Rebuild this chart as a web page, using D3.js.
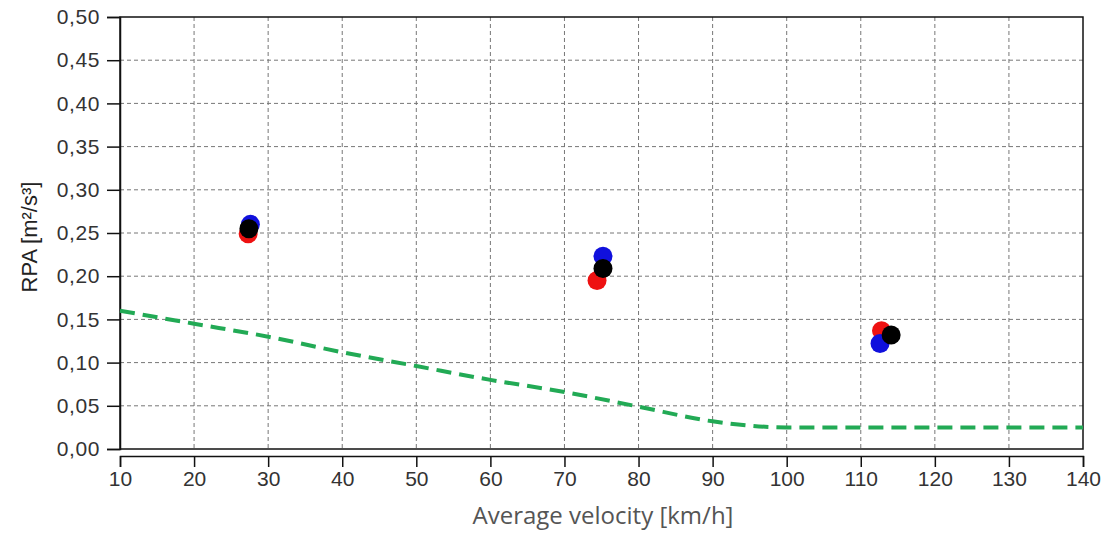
<!DOCTYPE html>
<html><head><meta charset="utf-8">
<script src="https://cdn.jsdelivr.net/npm/d3@7"></script>
<style>body{margin:0;background:#fff;}svg{display:block;}</style>
</head><body>
<svg id="c" width="1120" height="534"></svg>
<script>
const xTicks = [10,20,30,40,50,60,70,80,90,100,110,120,130,140];
const yTicks = [0,0.05,0.10,0.15,0.20,0.25,0.30,0.35,0.40,0.45,0.50];
const redPts = [[27.3,0.249],[74.4,0.195],[112.8,0.137]];
const bluePts = [[27.6,0.260],[75.2,0.223],[112.6,0.122]];
const blackPts = [[27.4,0.255],[75.2,0.209],[114.1,0.132]];
const limitV = [10,20,30,40,50,60,70,80,90,95,100,110,120,130,140];
const limitRPA = [0.160,0.145,0.130,0.112,0.096,0.080,0.066,0.049,0.032,0.027,0.025,0.025,0.025,0.025,0.025];

const svg = d3.select('#c');
const L=120,R=1083,T=17,B=449;
const x = d3.scaleLinear().domain([10,140]).range([L,R]);
const y = d3.scaleLinear().domain([0,0.5]).range([B,T]);
const fmt = d => d.toFixed(2).replace('.',',');
const tickFont = "'Liberation Sans', Arial, sans-serif";

// grid
const g = svg.append('g');
g.selectAll('.gx').data(xTicks.slice(1,-1)).enter().append('line')
 .attr('x1',d=>x(d)).attr('x2',d=>x(d)).attr('y1',T).attr('y2',B)
 .attr('stroke','#777').attr('stroke-width',1).attr('stroke-dasharray','4,3');
g.selectAll('.gy').data(yTicks.slice(1,-1)).enter().append('line')
 .attr('x1',L).attr('x2',R).attr('y1',d=>y(d)).attr('y2',d=>y(d))
 .attr('stroke','#777').attr('stroke-width',1).attr('stroke-dasharray','4,3');

// box
svg.append('rect').attr('x',L).attr('y',T).attr('width',R-L).attr('height',B-T)
 .attr('fill','none').attr('stroke','#111').attr('stroke-width',1.5);

// y axis
const ya = svg.append('g').attr('transform',`translate(${L},0)`)
 .call(d3.axisLeft(y).tickValues(yTicks).tickFormat(fmt).tickSize(13).tickPadding(7));
ya.select('.domain').attr('stroke','#111').attr('stroke-width',1.5);
ya.selectAll('.tick line').attr('stroke','#111').attr('stroke-width',1.5);
ya.selectAll('text').style('font-family',tickFont).style('font-size','21px')
  .style('letter-spacing','0.6px').attr('fill','#333');

// x axis (offset)
const xa = svg.append('g').attr('transform',`translate(0,${B+7})`)
 .call(d3.axisBottom(x).tickValues(xTicks).tickSizeOuter(0).tickSize(11).tickPadding(4));
xa.select('.domain').attr('stroke','#111').attr('stroke-width',1.5);
xa.selectAll('.tick line').attr('stroke','#111').attr('stroke-width',1.5);
xa.selectAll('text').style('font-family',tickFont).style('font-size','21px').attr('fill','#333');

// limit line
const line = d3.line().x((d,i)=>x(d)).y((d,i)=>y(limitRPA[i])).curve(d3.curveMonotoneX);
svg.append('path').attr('d',line(limitV)).attr('fill','none')
 .attr('stroke','#22aa55').attr('stroke-width',4).attr('stroke-dasharray','15,8');

// points
function pts(data,col){
  svg.append('g').selectAll('circle').data(data).enter().append('circle')
   .attr('cx',d=>x(d[0])).attr('cy',d=>y(d[1])).attr('r',9.5).attr('fill',col);
}
pts(redPts,'#ee1111');
pts(bluePts,'#1010dd');
pts(blackPts,'#000');

// labels
svg.append('text').attr('transform','translate(37,237) rotate(-90)')
 .attr('text-anchor','middle').style('font-family',tickFont).style('font-size','22px').attr('fill','#222')
 .text('RPA [m²/s³]');
svg.append('text').attr('x',603).attr('y',524).attr('text-anchor','middle')
 .style('font-family',"'Open Sans', sans-serif").style('font-size','24px').attr('fill','#555')
 .text('Average velocity [km/h]');
</script>
</body></html>
